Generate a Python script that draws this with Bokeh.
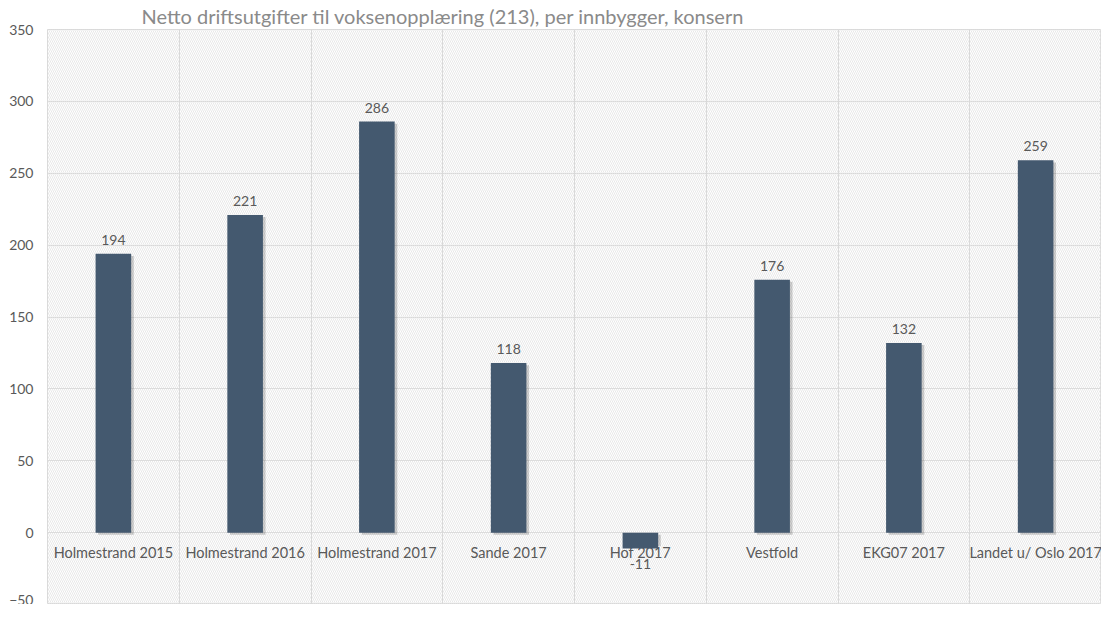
import numpy as np
from bokeh.plotting import figure
from bokeh.models import Range1d, FixedTicker, BoxAnnotation, ColumnDataSource, Title, Grid
from bokeh.core.properties import value
from bokeh.embed import file_html
from bokeh.resources import INLINE

title_text = "Netto driftsutgifter til voksenopplæring (213), per innbygger, konsern"
categories = ["Holmestrand 2015", "Holmestrand 2016", "Holmestrand 2017", "Sande 2017",
              "Hof 2017", "Vestfold", "EKG07 2017", "Landet u/ Oslo 2017"]
values = [194, 221, 286, 118, -11, 176, 132, 259]
y_ticks = [-50, 0, 50, 100, 150, 200, 250, 300, 350]

FONT = "Lato"
BAR = "#44596F"
TXT = "#595959"

n = len(categories)
xc = np.arange(n) + 0.5
vals = np.array(values, dtype=float)

p = figure(width=1101, height=604, output_backend="svg", toolbar_location=None,
           x_range=Range1d(0, n), y_range=Range1d(-50, 350), x_axis_location=None,
           min_border_left=47, min_border_right=0, min_border_top=0, min_border_bottom=0)

p.title = Title(text=title_text, align="left", offset=94, text_font=FONT,
                text_font_size="20px", text_font_style="normal", text_color="#8a8a8a",
                standoff=3)

p.background_fill_color = "white"
p.border_fill_color = "white"
p.outline_line_color = "#d9d9d9"

hatch = BoxAnnotation(fill_alpha=0, line_color=None, hatch_pattern="\\",
                      hatch_color="#e2e2e2", hatch_scale=4, hatch_weight=0.8,
                      level="underlay")
p.add_layout(hatch)

for g in list(p.xgrid):
    g.visible = False
p.add_layout(Grid(dimension=0, ticker=FixedTicker(ticks=list(range(1, n))),
                  grid_line_color="#d9d9d9"))

p.yaxis.ticker = FixedTicker(ticks=y_ticks)
p.yaxis.axis_line_color = None
p.yaxis.major_tick_line_color = None
p.yaxis.minor_tick_line_color = None
p.yaxis.major_tick_out = 0
p.yaxis.major_tick_in = 0
p.yaxis.major_label_text_font = FONT
p.yaxis.major_label_text_font_size = "14px"
p.yaxis.major_label_text_color = TXT
p.yaxis.major_label_standoff = 14
p.ygrid.grid_line_color = "#d9d9d9"

bw = 0.27
src = ColumnDataSource(dict(x=xc, top=vals, cat=categories,
                            lbl=[str(v) for v in values]))

# category labels (drawn beneath the bars)
p.text(x="x", y=0, text="cat", source=src, text_font=value(FONT),
       text_font_size="14.5px", text_color=TXT, text_align="center",
       text_baseline="middle", y_offset=20)

# soft shadow
shadow = ColumnDataSource(dict(x=xc + 0.02, top=vals - np.sign(vals) * 1.5))
p.vbar(x="x", top="top", bottom=-1.5, width=bw, source=shadow,
       fill_color="#000000", fill_alpha=0.18, line_color=None)
p.vbar(x="x", top="top", bottom=0, width=bw, source=src,
       fill_color=BAR, line_color=None)

pos = vals >= 0
p.text(x=xc[pos], y=vals[pos], text=[str(v) for v in vals[pos].astype(int)],
       text_font=value(FONT), text_font_size="14px", text_color=TXT,
       text_align="center", text_baseline="bottom", y_offset=-9)
p.text(x=xc[~pos], y=vals[~pos], text=[str(v) for v in vals[~pos].astype(int)],
       text_font=value(FONT), text_font_size="14px", text_color=TXT,
       text_align="center", text_baseline="top", y_offset=11)

open("out.html", "w").write(file_html(p, INLINE))
